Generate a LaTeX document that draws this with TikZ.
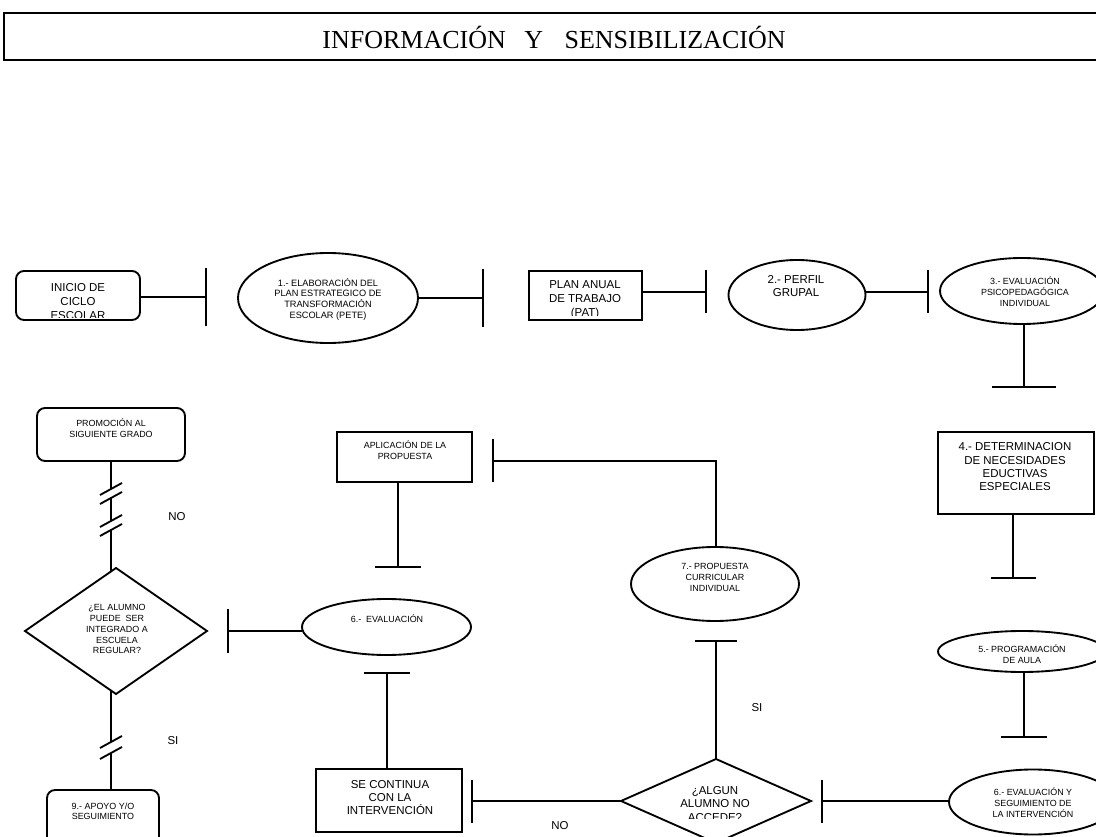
\documentclass[tikz,border=0pt]{standalone}
\usepackage{fontspec}
\setmainfont{Liberation Sans}
\newfontfamily\titlefont{Liberation Serif}
\usetikzlibrary{shapes.geometric}
\newcommand\tbarv[2]{\draw (#1) ++(0,-#2/2) -- ++(0,#2);}
\newcommand\tbarh[2]{\draw (#1) ++(-#2/2,0) -- ++(#2,0);}
\newcommand\brk[1]{\draw (#1) ++(-11,6) -- ++(22,-12);}
\begin{document}
\begin{tikzpicture}[x=0.75pt,y=-0.75pt,line width=1.4pt,
  every node/.style={inner sep=0pt,outer sep=0pt},
  rbox/.style={draw,rectangle,rounded corners=6pt},
  sbox/.style={draw,rectangle},
  ell/.style={draw,ellipse},
  dia/.style={draw,diamond},
  sz/.style 2 args={minimum width=#1*0.75pt,minimum height=#2*0.75pt},
  big/.style={font=\fontsize{8.6}{10}\selectfont,align=center},
  bigc/.style={font=\fontsize{8.6}{10.5}\selectfont,align=center},
  small/.style={font=\fontsize{6.7}{8.2}\selectfont,align=center},
  lbl/.style={font=\fontsize{8.6}{10}\selectfont}]
\clip (0,0) rectangle (1096,837);
\fill[white] (0,0) rectangle (1096,837);

% title
\node[draw,line width=1.5pt,sz={1110}{47}] (title) at (559,36.5) {};
\node[font=\titlefont\fontsize{19.5}{21}\selectfont] (ttext) at (554,37.5) {INFORMACIÓN\hspace{14pt}Y\hspace{16pt}SENSIBILIZACIÓN};

% row 1
\node[rbox,sz={124}{49}] (inicio) at (78,295.5) {};
\begin{scope}
\clip (inicio.north west) rectangle ([yshift=2.2pt]inicio.south east);
\node[bigc] (tinicio) at (78,302) {INICIO DE\\CICLO\\ESCOLAR};
\end{scope}
\coordinate (b1) at (206,297);
\draw (b1 -| inicio.east) -- (b1); \tbarv{b1}{58}

\node[ell,sz={180}{90}] (e1) at (328,298) {};
\node[small,font=\fontsize{6.9}{8}\selectfont] (te1) at (328,299) {1.- ELABORACIÓN DEL\\PLAN ESTRATEGICO DE\\TRANSFORMACIÓN\\ESCOLAR (PETE)};
\coordinate (b2) at (483,298);
\draw (e1.east) -- (b2); \tbarv{b2}{58}

\node[sbox,sz={113}{49}] (pat) at (585.5,295.5) {};
\begin{scope}
\clip (pat.north west) rectangle ([yshift=3pt]pat.south east);
\node[bigc] (tpat) at (585,299.5) {PLAN ANUAL\\DE TRABAJO\\(PAT)};
\end{scope}
\coordinate (b3) at (706,292);
\draw (b3 -| pat.east) -- (b3); \tbarv{b3}{43}

\node[ell,sz={137}{70}] (e2) at (797,295) {};
\node[big] (te2) at (796,286) {2.- PERFIL\\GRUPAL};
\coordinate (b4) at (928,292);
\draw (b4 -| e2.east) -- (b4); \tbarv{b4}{43}

\node[ell,sz={164}{66}] (e3) at (1022,291) {};
\node[small] (te3) at (1025,291.5) {3.- EVALUACIÓN\\PSICOPEDAGÓGICA\\INDIVIDUAL};
\coordinate (b5) at (1024,387);
\draw (b5 |- e3.south) -- (b5); \tbarh{b5}{64}

% right column
\node[sbox,sz={156}{82}] (n4) at (1016,473) {};
\node[big] (tn4) at (1015,467) {4.- DETERMINACION\\DE NECESIDADES\\EDUCTIVAS\\ESPECIALES};
\coordinate (b6) at (1013,578);
\draw (b6 |- n4.south) -- (b6); \tbarh{b6}{45}

\node[ell,sz={168}{41}] (e5) at (1022,651.5) {};
\node[small] (te5) at (1022,654) {5.- PROGRAMACIÓN\\DE AULA};
\coordinate (b7) at (1024,737);
\draw (b7 |- e5.south) -- (b7); \tbarh{b7}{46}

\node[ell,sz={168}{65}] (e6b) at (1033,802) {};
\node[small] (te6b) at (1033,803) {6.- EVALUACIÓN Y\\SEGUIMIENTO DE\\LA INTERVENCIÓN};
\coordinate (b8) at (822,801);
\draw (b8 -| e6b.west) -- (b8); \tbarv{b8}{43}

% bottom row
\node[dia,sz={190}{84}] (alg) at (716,801) {};
\begin{scope}
\clip (600,750) rectangle (830,818);
\node[big] (talg) at (715,804) {¿ALGUN\\ALUMNO NO\\ACCEDE?};
\end{scope}
\coordinate (b9) at (472,801);
\draw (alg.west) -- (b9); \tbarv{b9}{43}
\node[lbl] (no2) at (560,826) {NO};

\coordinate (b14) at (716,641);
\draw (alg.north) -- (b14); \tbarh{b14}{42}
\node[lbl] (si2) at (757,708) {SI};

\node[sbox,sz={146}{63}] (cont) at (389,800.5) {};
\node[big] (tcont) at (390,797.5) {SE CONTINUA\\CON LA\\INTERVENCIÓN};
\coordinate (b10) at (387,673);
\draw (b10 |- cont.north) -- (b10); \tbarh{b10}{46}

\node[ell,sz={169}{56}] (e6) at (386.5,627) {};
\node[small] (te6) at (387,619) {6.-\ \ EVALUACIÓN};
\coordinate (b11) at (228,631);
\draw (b11 -| e6.west) -- (b11); \tbarv{b11}{44}

% middle
\node[ell,sz={168}{74}] (e7) at (715,584) {};
\node[small] (te7) at (715,577.5) {7.- PROPUESTA\\CURRICULAR\\INDIVIDUAL};
\coordinate (c7) at (716,461);
\coordinate (b12) at (493,461);
\draw (c7 |- e7.north) -- (c7) -- (b12); \tbarv{b12}{43}

\node[sbox,sz={135}{50}] (aplic) at (404.5,457) {};
\node[small] (taplic) at (405,450.5) {APLICACIÓN DE LA\\PROPUESTA};
\coordinate (b13) at (398,567);
\draw (b13 |- aplic.south) -- (b13); \tbarh{b13}{46}

% left column
\node[dia,sz={182}{126}] (alu) at (116,631) {};
\node[small] (talu) at (117,629) {¿EL ALUMNO\\PUEDE\ \ SER\\INTEGRADO A\\ESCUELA\\REGULAR?};

\node[rbox,sz={148}{53}] (promo) at (111,434.5) {};
\node[small] (tpromo) at (111,428.5) {PROMOCIÓN AL\\SIGUIENTE GRADO};

\node[rbox,sz={112}{70}] (box9) at (103,825) {};
\node[small,font=\fontsize{6.7}{7.3}\selectfont] (tbox9) at (103,811.5) {9.- APOYO Y/O\\SEGUIMIENTO};

\coordinate (k1) at (111,489);
\coordinate (k2) at (111,498);
\coordinate (k3) at (111,521);
\coordinate (k4) at (111,530);
\coordinate (k4e) at (111,571.5);
\draw (promo.south -| k1) -- (k1); \brk{k1} \brk{k2}
\draw (k2) -- (k3); \brk{k3} \brk{k4}
\draw (k4) -- (k4e);

\coordinate (k0) at (111,690.5);
\coordinate (k5) at (111,742);
\coordinate (k6) at (111,753);
\draw (k0) -- (k5); \brk{k5} \brk{k6}
\draw (k6) -- (k6 |- box9.north);

\node[lbl] (no1) at (177,517) {NO};
\node[lbl] (si1) at (173,741) {SI};
\end{tikzpicture}
\end{document}
